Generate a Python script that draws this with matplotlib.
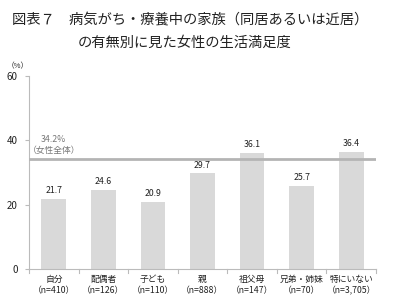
import matplotlib
matplotlib.use("Agg")
import matplotlib.pyplot as plt

plt.rcParams['font.family'] = ['Noto Sans CJK JP', 'DejaVu Sans']

categories = ["自分", "配偶者", "子ども", "親", "祖父母", "兄弟・姉妹", "特にいない"]
ns = ["（n=410）", "（n=126）", "（n=110）", "（n=888）", "（n=147）", "（n=70）", "（n=3,705）"]
values = [21.7, 24.6, 20.9, 29.7, 36.1, 25.7, 36.4]
overall = 34.2

fig = plt.figure(figsize=(3.93, 3.08), dpi=100)
ax = fig.add_axes([29/393, 1 - 269/308, (376 - 29)/393, (269 - 76)/308])

x = list(range(len(categories)))
ax.bar(x, values, width=0.5, color="#d9d9d9", zorder=2)
for xi, v in zip(x, values):
    ax.text(xi, v + 1.2, f"{v:.1f}", ha="center", va="bottom", fontsize=6.3, color="#222222")

ax.axhline(overall, color="#b4b4b4", lw=2, zorder=3, xmin=0, xmax=1)
ax.text(0.0, overall + 1.2, f"{overall}%\n（女性全体）", ha="center", va="bottom",
        fontsize=6.3, color="#777777", linespacing=1.3)

ax.set_xlim(-0.5, len(categories) - 0.5)
ax.set_ylim(0, 60)
ax.set_yticks([0, 20, 40, 60])
ax.tick_params(axis="y", labelsize=7, length=3, color="#bbbbbb", pad=5, labelcolor="#222222")
ax.set_xticks(x)
ax.set_xticklabels([f"{c}\n{n}" for c, n in zip(categories, ns)], fontsize=6.3, linespacing=1.4)
ax.tick_params(axis="x", length=0, pad=4, labelcolor="#222222")
for b in [i + 0.5 for i in range(-1, len(categories))]:
    ax.plot([b, b], [0, -1.2], color="#bbbbbb", lw=0.8, clip_on=False)

for s in ["top", "right"]:
    ax.spines[s].set_visible(False)
ax.spines["left"].set_color("#bbbbbb")
ax.spines["bottom"].set_color("#bbbbbb")
ax.spines["left"].set_linewidth(0.8)
ax.spines["bottom"].set_linewidth(0.8)

fig.text(12/393, 1 - 20/308, "図表７　病気がち・療養中の家族（同居あるいは近居）",
         fontsize=10.3, va="center", ha="left", color="#222222")
fig.text(78/393, 1 - 43/308, "の有無別に見た女性の生活満足度",
         fontsize=10.3, va="center", ha="left", color="#222222")
fig.text(18/393, 1 - 66/308, "（%）", fontsize=5.5, va="center", ha="center", color="#222222")

fig.savefig("out.png", dpi=100)
